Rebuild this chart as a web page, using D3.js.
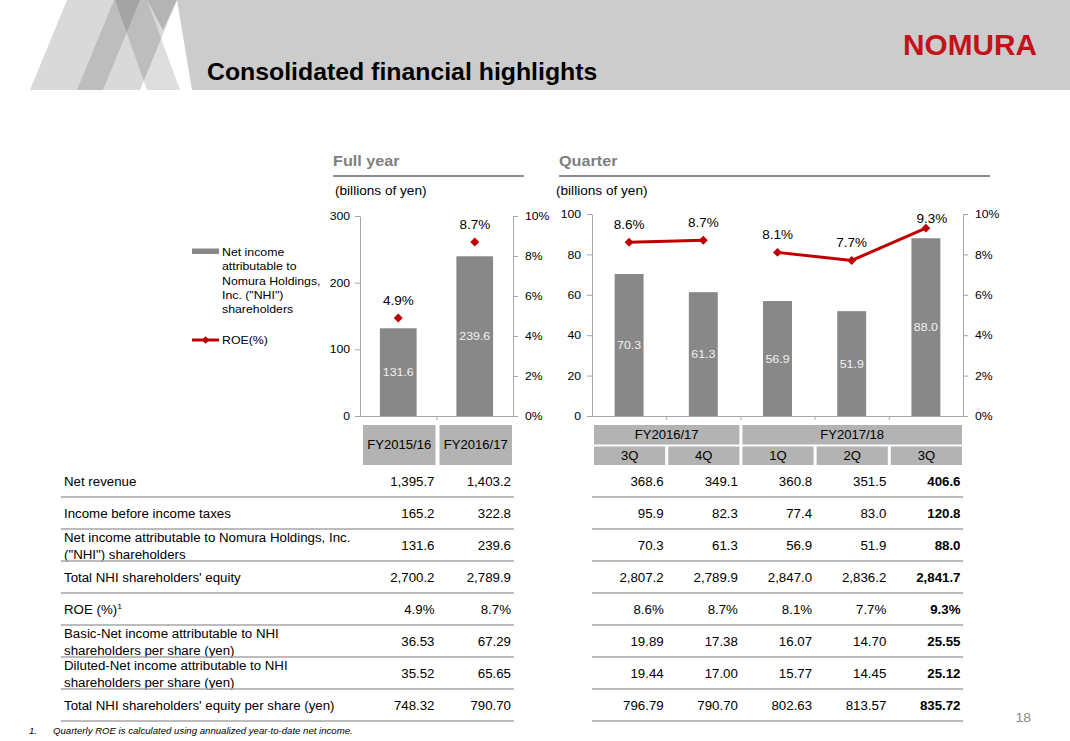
<!DOCTYPE html>
<html><head><meta charset="utf-8">
<script src="https://cdn.jsdelivr.net/npm/d3@7"></script>
<style>
body{margin:0;background:#fff}
svg{display:block;font-family:Arial,"Liberation Sans",sans-serif}
</style>
</head><body>
<svg id="c" width="1070" height="741"></svg>
<script>
// ---------- data ----------
const fyCategories = ["FY2015/16", "FY2016/17"];
const fyNetIncome = [131.6, 239.6];
const fyROE = [4.9, 8.7];
const qYears = ["FY2016/17", "FY2016/17", "FY2017/18", "FY2017/18", "FY2017/18"];
const qQuarters = ["3Q", "4Q", "1Q", "2Q", "3Q"];
const qNetIncome = [70.3, 61.3, 56.9, 51.9, 88.0];
const qROE = [8.6, 8.7, 8.1, 7.7, 9.3];
const fyTicks = [0, 100, 200, 300];
const qTicks = [0, 20, 40, 60, 80, 100];
const roeTicks = [0, 2, 4, 6, 8, 10];
const legendIncome = ["Net income", "attributable to", "Nomura Holdings,", "Inc. (\"NHI\")", "shareholders"];
const legendROE = "ROE(%)";
const rowLabels = [
  "Net revenue",
  "Income before income taxes",
  "Net income attributable to Nomura Holdings, Inc.\n(\"NHI\") shareholders",
  "Total NHI shareholders' equity",
  "ROE (%)",
  "Basic-Net income attributable to NHI\nshareholders per share (yen)",
  "Diluted-Net income attributable to NHI\nshareholders per share (yen)",
  "Total NHI shareholders' equity per share (yen)"
];
const colFY1516 = ["1,395.7", "165.2", "131.6", "2,700.2", "4.9%", "36.53", "35.52", "748.32"];
const colFY1617 = ["1,403.2", "322.8", "239.6", "2,789.9", "8.7%", "67.29", "65.65", "790.70"];
const col3Q17 = ["368.6", "95.9", "70.3", "2,807.2", "8.6%", "19.89", "19.44", "796.79"];
const col4Q17 = ["349.1", "82.3", "61.3", "2,789.9", "8.7%", "17.38", "17.00", "790.70"];
const col1Q18 = ["360.8", "77.4", "56.9", "2,847.0", "8.1%", "16.07", "15.77", "802.63"];
const col2Q18 = ["351.5", "83.0", "51.9", "2,836.2", "7.7%", "14.70", "14.45", "813.57"];
const col3Q18 = ["406.6", "120.8", "88.0", "2,841.7", "9.3%", "25.55", "25.12", "835.72"];
const titleText = "Consolidated financial highlights";
const footnote = "Quarterly ROE is calculated using annualized year-to-date net income.";

// ---------- helpers ----------
const svg = d3.select("#c");
const K = 1.08; // horizontal stretch of the slide's text
const RED = "#c00000", BAR = "#888888", BOX = "#b3b3b3", AX = "#a6a6a6";
function T(g, x, y, s, o = {}) {
  const t = g.append("text")
    .attr("transform", `translate(${x},${y}) scale(${K},1)`)
    .attr("font-size", o.size || 12.3)
    .attr("fill", o.fill || "#000")
    .attr("text-anchor", o.anchor || "start")
    .text(s);
  if (o.weight) t.attr("font-weight", o.weight);
  if (o.italic) t.attr("font-style", "italic");
  return t;
}
function styleAxis(g, size) {
  g.attr("font-family", null).attr("font-size", size);
  g.select(".domain").attr("stroke", AX);
  g.selectAll(".tick line").attr("stroke", AX);
  g.selectAll(".tick text").attr("fill", "#000").each(function () {
    const t = d3.select(this);
    const x = +t.attr("x") || 0;
    t.attr("x", 0).attr("transform", `translate(${x},0) scale(${K},1)`);
  });
}
const diamond = d3.symbol(d3.symbolSquare, 40);

// ---------- header ----------
const hdr = svg.append("g");
hdr.append("polygon").attr("points", "177,0 1070,0 1070,90 192,90").attr("fill", "#cccccc");
hdr.append("polygon").attr("points", "30,90 67,0 177,0 140,90").attr("fill", "#d9d9d9");
hdr.append("polygon").attr("points", "115,0 147,0 180,90 147,90").attr("fill", "#000").attr("fill-opacity", 0.13);
hdr.append("polygon").attr("points", "77,90 114,0 140,0 103,90").attr("fill", "#000").attr("fill-opacity", 0.13);
hdr.append("polygon").attr("points", "147,0 177,0 163,30").attr("fill", "#000").attr("fill-opacity", 0.17);
T(hdr, 207, 80, titleText, { size: 23, weight: "bold" });
hdr.append("text").attr("x", 903).attr("y", 55).attr("font-size", 30).attr("font-weight", "bold")
  .attr("fill", "#c4121a").attr("textLength", 134).attr("lengthAdjust", "spacingAndGlyphs").text("NOMURA");

// ---------- section headings ----------
const hd = svg.append("g");
T(hd, 333, 166, "Full year", { size: 15, weight: "bold", fill: "#7f7f7f" });
hd.append("line").attr("x1", 333).attr("x2", 524).attr("y1", 176).attr("y2", 176).attr("stroke", "#8c8c8c").attr("stroke-width", 2);
T(hd, 335, 194.5, "(billions of yen)", { size: 12.6 });
T(hd, 559, 166, "Quarter", { size: 15, weight: "bold", fill: "#7f7f7f" });
hd.append("line").attr("x1", 559).attr("x2", 990).attr("y1", 176).attr("y2", 176).attr("stroke", "#8c8c8c").attr("stroke-width", 2);
T(hd, 556, 194.5, "(billions of yen)", { size: 12.6 });

// ---------- full-year chart ----------
const L = svg.append("g");
const xL = d3.scaleBand().domain(fyCategories).range([360, 513]).paddingInner(0.52).paddingOuter(0.26);
const xLlin = d3.scaleLinear().domain([0, fyCategories.length]).range([360, 513]);
const yL = d3.scaleLinear().domain([0, 300]).range([416, 216]);
const yLr = d3.scaleLinear().domain([0, 10]).range([416, 216]);

L.selectAll("rect.bar").data(fyNetIncome).join("rect").attr("class", "bar")
  .attr("x", (d, i) => xL(fyCategories[i])).attr("width", xL.bandwidth())
  .attr("y", d => yL(d)).attr("height", d => yL(0) - yL(d)).attr("fill", BAR);

const gLl = L.append("g").attr("transform", "translate(360,0)")
  .call(d3.axisLeft(yL).tickValues(fyTicks).tickSize(5).tickSizeOuter(0).tickPadding(5));
styleAxis(gLl, 11.3);
const gLr = L.append("g").attr("transform", "translate(513,0)")
  .call(d3.axisRight(yLr).tickValues(roeTicks).tickFormat(d => d + "%").tickSize(5).tickSizeOuter(0).tickPadding(7));
styleAxis(gLr, 11.3);
const gLb = L.append("g").attr("transform", "translate(0,416)")
  .call(d3.axisBottom(xLlin).tickValues(d3.range(1, fyCategories.length)).tickFormat("").tickSize(4).tickSizeOuter(0));
styleAxis(gLb, 11.3);

fyNetIncome.forEach((v, i) => {
  const cx = xL(fyCategories[i]) + xL.bandwidth() / 2;
  T(L, cx, (yL(v) + yL(0)) / 2 + 4, v.toFixed(1), { size: 11.5, fill: "#f2f2f2", anchor: "middle" });
});
fyROE.forEach((v, i) => {
  const cx = xL(fyCategories[i]) + xL.bandwidth() / 2;
  L.append("path").attr("d", diamond).attr("fill", RED)
    .attr("transform", `translate(${cx},${yLr(v)}) rotate(45)`);
  T(L, cx, yLr(v) - 18 + 4.5, v.toFixed(1) + "%", { size: 12.5, anchor: "middle" });
});

// category boxes
fyCategories.forEach((c, i) => {
  const x0 = xLlin(i) + 3, x1 = xLlin(i + 1) - 1;
  L.append("rect").attr("x", x0).attr("y", 425).attr("width", x1 - x0).attr("height", 40).attr("fill", BOX);
  T(L, (x0 + x1) / 2, 448.5, c, { size: 12.1, anchor: "middle" });
});

// legend
const lg = svg.append("g");
lg.append("rect").attr("x", 192).attr("y", 248.5).attr("width", 27).attr("height", 5.5).attr("fill", BAR);
legendIncome.forEach((s, i) => T(lg, 222, 255.8 + i * 14.4, s, { size: 11.4 }));
lg.append("line").attr("x1", 192).attr("x2", 219).attr("y1", 340).attr("y2", 340).attr("stroke", RED).attr("stroke-width", 3);
lg.append("path").attr("d", d3.symbol(d3.symbolSquare, 28)).attr("fill", RED).attr("transform", "translate(205.5,340) rotate(45)");
T(lg, 222, 344.2, legendROE, { size: 11.4 });

// ---------- quarterly chart ----------
const Q = svg.append("g");
const qIdx = d3.range(qNetIncome.length);
const xQ = d3.scaleBand().domain(qIdx).range([592, 963]).paddingInner(0.61).paddingOuter(0.305);
const xQlin = d3.scaleLinear().domain([0, qIdx.length]).range([592, 963]);
const yQ = d3.scaleLinear().domain([0, 100]).range([416, 214]);
const yQr = d3.scaleLinear().domain([0, 10]).range([416, 214]);

Q.selectAll("rect.bar").data(qNetIncome).join("rect").attr("class", "bar")
  .attr("x", (d, i) => xQ(i)).attr("width", xQ.bandwidth())
  .attr("y", d => yQ(d)).attr("height", d => yQ(0) - yQ(d)).attr("fill", BAR);

const gQl = Q.append("g").attr("transform", "translate(592,0)")
  .call(d3.axisLeft(yQ).tickValues(qTicks).tickSize(5).tickSizeOuter(0).tickPadding(6));
styleAxis(gQl, 11.3);
const gQr = Q.append("g").attr("transform", "translate(963,0)")
  .call(d3.axisRight(yQr).tickValues(roeTicks).tickFormat(d => d + "%").tickSize(5).tickSizeOuter(0).tickPadding(7));
styleAxis(gQr, 11.3);
const gQb = Q.append("g").attr("transform", "translate(0,416)")
  .call(d3.axisBottom(xQlin).tickValues(d3.range(1, qIdx.length)).tickFormat("").tickSize(4).tickSizeOuter(0));
styleAxis(gQb, 11.3);

qNetIncome.forEach((v, i) => {
  const cx = xQ(i) + xQ.bandwidth() / 2;
  T(Q, cx, (yQ(v) + yQ(0)) / 2 + 4, v.toFixed(1), { size: 11.5, fill: "#f2f2f2", anchor: "middle" });
});

// ROE line, one segment per fiscal year
const line = d3.line().x(i => xQ(i) + xQ.bandwidth() / 2).y(i => yQr(qROE[i]));
d3.groups(qIdx, i => qYears[i]).forEach(([yr, idxs]) => {
  Q.append("path").attr("d", line(idxs)).attr("fill", "none").attr("stroke", RED).attr("stroke-width", 3);
});
qROE.forEach((v, i) => {
  const cx = xQ(i) + xQ.bandwidth() / 2;
  Q.append("path").attr("d", diamond).attr("fill", RED)
    .attr("transform", `translate(${cx},${yQr(v)}) rotate(45)`);
  const ly = Math.max(yQr(v) - 18, 218);
  const lx = ly === 218 ? cx + 6 : cx;
  T(Q, lx, ly + 4.5, v.toFixed(1) + "%", { size: 12.5, anchor: "middle" });
});

// category boxes (two rows)
d3.groups(qIdx, i => qYears[i]).forEach(([yr, idxs]) => {
  const x0 = xQlin(idxs[0]) + 2, x1 = xQlin(idxs[idxs.length - 1] + 1) - 1;
  Q.append("rect").attr("x", x0).attr("y", 425).attr("width", x1 - x0).attr("height", 19.5).attr("fill", BOX);
  T(Q, (x0 + x1) / 2, 439, yr, { size: 12.1, anchor: "middle" });
});
qQuarters.forEach((q, i) => {
  const x0 = xQlin(i) + 2, x1 = xQlin(i + 1) - 1;
  Q.append("rect").attr("x", x0).attr("y", 446.5).attr("width", x1 - x0).attr("height", 18.5).attr("fill", BOX);
  T(Q, (x0 + x1) / 2, 460, q, { size: 12.1, anchor: "middle" });
});

// ---------- table ----------
const tb = svg.append("g");
const rowTop = 465, rowH = 32;
const fyCols = [colFY1516, colFY1617];
const qCols = [col3Q17, col4Q17, col1Q18, col2Q18, col3Q18];
rowLabels.forEach((lab, r) => {
  const cy = rowTop + rowH * r + 17;
  const lines = lab.split("\n");
  if (lines.length === 1) {
    const t = T(tb, 64, cy + 4.4, lines[0]);
    if (lab.startsWith("ROE")) {
      t.append("tspan").attr("font-size", 8).attr("dy", -5).text("1");
    }
  } else {
    T(tb, 64, cy - 8.5 + 4.4, lines[0]);
    T(tb, 64, cy + 9 + 4.4, lines[1]);
  }
  fyCols.forEach((col, c) => T(tb, xLlin(c + 1) - 2, cy + 4.4, col[r], { anchor: "end" }));
  qCols.forEach((col, c) => T(tb, xQlin(c + 1) - 2.5, cy + 4.4, col[r],
    { anchor: "end", weight: c === qCols.length - 1 ? "bold" : null }));
  const ly = rowTop + rowH * (r + 1);
  tb.append("line").attr("x1", 61).attr("x2", 514).attr("y1", ly).attr("y2", ly).attr("stroke", AX).attr("stroke-width", 1.6);
  tb.append("line").attr("x1", 592).attr("x2", 963).attr("y1", ly).attr("y2", ly).attr("stroke", AX).attr("stroke-width", 1.6);
});

// ---------- footer ----------
T(svg, 29, 733.5, "1.", { size: 8.9, italic: true });
T(svg, 53, 733.5, footnote, { size: 8.9, italic: true });
T(svg, 1031, 722, "18", { size: 13, fill: "#8c8c8c", anchor: "end" });
</script>
</body></html>
